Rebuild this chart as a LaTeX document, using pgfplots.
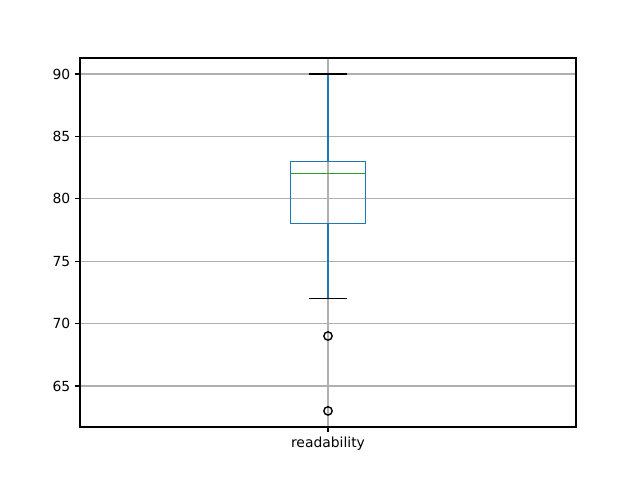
\documentclass[border=0pt]{standalone}
\usepackage{fontspec}
\setmainfont{DejaVu Sans}
\usepackage{pgfplots}
\pgfplotsset{compat=1.18}
\definecolor{mplblue}{HTML}{1F77B4}
\definecolor{mplgreen}{HTML}{2CA02C}
\definecolor{gridgray}{HTML}{B0B0B0}

\begin{document}
\begin{tikzpicture}
\begin{axis}[
  name=ax,
  scale only axis,
  width=357.12pt,
  height=265.68pt,
  xmin=0.5, xmax=1.5,
  ymin=61.71, ymax=91.28,
  xtick={1},
  xticklabels={readability},
  ytick={65,70,75,80,85,90},
  grid=major,
  major grid style={gridgray, line width=0.8pt},
  tick align=outside,
  major tick length=3.5pt,
  tick style={black, line width=0.8pt},
  axis line style={line width=0.8pt},
  xtick pos=bottom, ytick pos=left,
  ticklabel style={font=\fontsize{10}{12}\selectfont},
  /pgf/number format/assume math mode=true,
  clip=false,
]
% box (Q1=78, Q3=83)
\addplot[mplblue, line width=1pt, mark=none] coordinates {
  (0.925,78) (1.075,78) (1.075,83) (0.925,83) (0.925,78)
};
% whiskers
\addplot[mplblue, line width=1pt, mark=none] coordinates {(1,78) (1,72)};
\addplot[mplblue, line width=1pt, mark=none] coordinates {(1,83) (1,90)};
% caps
\addplot[black, line width=1pt, mark=none] coordinates {(0.9625,72) (1.0375,72)};
\addplot[black, line width=1pt, mark=none] coordinates {(0.9625,90) (1.0375,90)};
% median
\addplot[mplgreen, line width=1pt, mark=none] coordinates {(0.925,82) (1.075,82)};
% outliers
\addplot[only marks, mark=o, mark size=3pt, mark options={black, line width=1pt}]
  coordinates {(1,69) (1,63)};
\end{axis}
\path ([xshift=-57.6pt,yshift=-38.16pt]ax.south west)
  rectangle ([xshift=46.08pt,yshift=41.76pt]ax.north east);
\end{tikzpicture}
\end{document}
